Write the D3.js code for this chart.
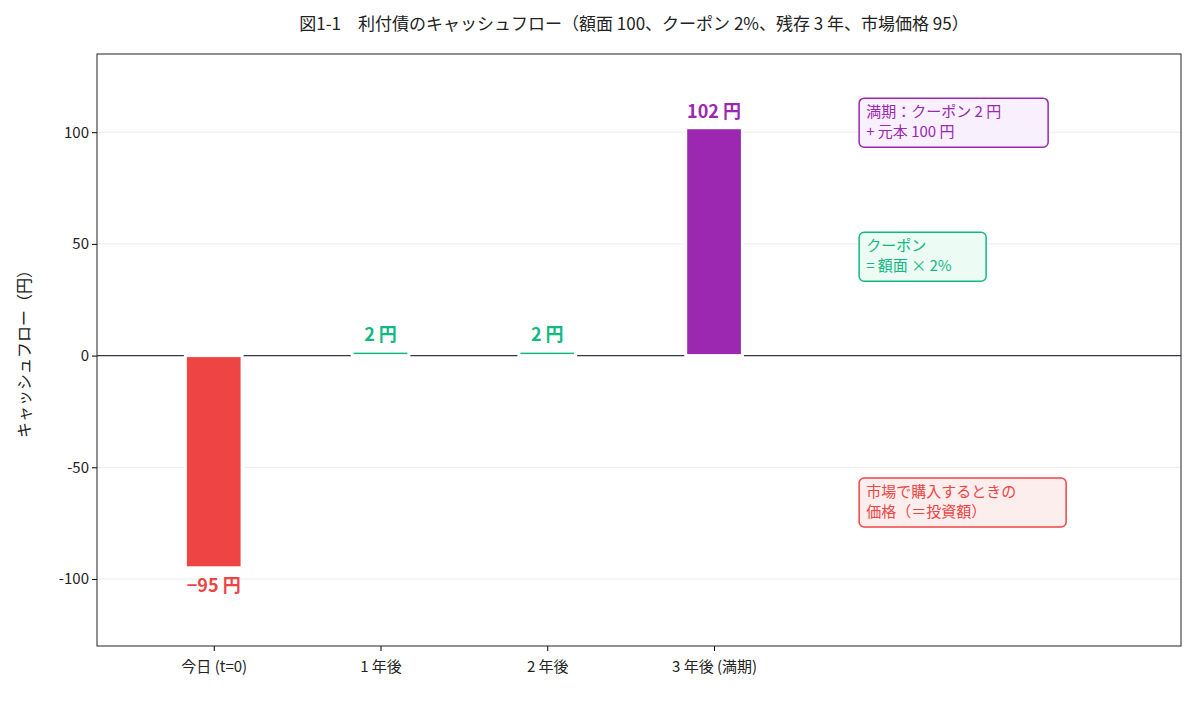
<!DOCTYPE html><html><head><meta charset="utf-8">
<script src="https://cdn.jsdelivr.net/npm/d3@7"></script>
<style>body{margin:0;background:#fff;font-family:"Noto Sans CJK JP","Noto Sans",sans-serif}</style></head><body>
<svg id="c" width="1195" height="702"></svg>
<script>
const categories=["今日 (t=0)","1 年後","2 年後","3 年後 (満期)"];
const values=[-95,2,2,102];
const labels=["−95 円","2 円","2 円","102 円"];
const colors=["#ef4444","#10b981","#10b981","#9c27b0"];
const yTicks=[-100,-50,0,50,100];
const notes=[
 {lines:["満期：クーポン 2 円","+ 元本 100 円"],y:100,c:"#9c27b0",bg:"#f8f0fc",w:189},
 {lines:["クーポン","= 額面 × 2%"],y:40,c:"#10b981",bg:"#ecfbf4",w:127},
 {lines:["市場で購入するときの","価格（＝投資額）"],y:-70,c:"#ef4444",bg:"#fdeeee",w:207}];
const svg=d3.select("#c");
const L=97,R=1181,T=54,B=646;
const x=d3.scaleLinear().domain([-0.7,5.8]).range([L,R]);
const y=d3.scaleLinear().domain([-130,135]).range([B,T]);
svg.append("text").attr("x",634).attr("y",30).attr("text-anchor","middle").attr("font-size",17).attr("fill","#222")
 .text("図1-1　利付債のキャッシュフロー（額面 100、クーポン 2%、残存 3 年、市場価格 95）");
yTicks.forEach(t=>svg.append("line").attr("x1",L).attr("x2",R).attr("y1",y(t)).attr("y2",y(t)).attr("stroke","#ececec"));
svg.append("line").attr("x1",L).attr("x2",R).attr("y1",y(0)).attr("y2",y(0)).attr("stroke","#333b48").attr("stroke-width",1.2);
const bw=x(0.34)-x(0);
values.forEach((v,i)=>{
 svg.append("rect").attr("x",x(i)-bw/2).attr("width",bw).attr("y",y(Math.max(v,0))).attr("height",Math.abs(y(v)-y(0)))
  .attr("fill",colors[i]).attr("stroke","#fff").attr("stroke-width",3);
 svg.append("text").attr("x",x(i)).attr("y",v>=0?y(v)-10:y(v)+24).attr("text-anchor","middle")
  .attr("font-size",18).attr("font-weight","bold").attr("fill",colors[i]).text(labels[i]);
});
notes.forEach(n=>{
 const g=svg.append("g").attr("transform",`translate(${x(3.87)},${y(n.y)-34})`);
 g.append("rect").attr("width",n.w).attr("height",49).attr("rx",5).attr("fill",n.bg).attr("stroke",n.c).attr("stroke-width",1.5);
 n.lines.forEach((l,k)=>g.append("text").attr("x",7).attr("y",19+k*20).attr("font-size",15).attr("fill",n.c).text(l));
});
svg.append("g").attr("transform",`translate(0,${B})`).call(d3.axisBottom(x).tickValues([0,1,2,3]).tickFormat(i=>categories[i]).tickSize(5))
 .call(g=>g.select(".domain").remove()).selectAll("text").attr("font-size",15).attr("dy","1.2em").attr("font-family","Noto Sans CJK JP").attr("fill","#222");
svg.append("g").attr("transform",`translate(${L},0)`).call(d3.axisLeft(y).tickValues(yTicks).tickFormat(d=>d).tickSize(5))
 .call(g=>g.select(".domain").remove()).selectAll("text").attr("font-size",15).attr("font-family","Noto Sans CJK JP").attr("fill","#222");
svg.append("rect").attr("x",L).attr("y",T).attr("width",R-L).attr("height",B-T).attr("fill","none").attr("stroke","#222");
svg.append("text").attr("transform",`translate(30,${(T+B)/2}) rotate(-90)`).attr("text-anchor","middle").attr("font-size",16).attr("fill","#222").text("キャッシュフロー（円）");
</script></body></html>
